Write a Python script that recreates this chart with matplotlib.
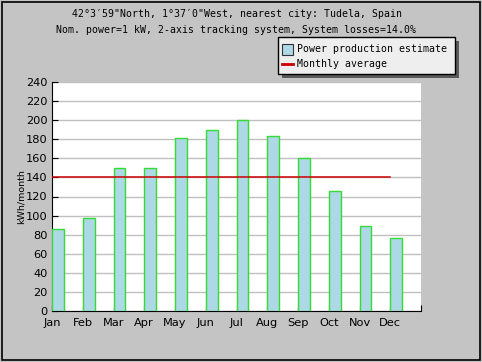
import numpy as np
import matplotlib
matplotlib.use("Agg")
from matplotlib import pyplot as plt
from matplotlib.patches import Rectangle
from matplotlib.lines import Line2D

months = ['Jan', 'Feb', 'Mar', 'Apr', 'May', 'Jun',
          'Jul', 'Aug', 'Sep', 'Oct', 'Nov', 'Dec']
production = [86, 97, 150, 150, 181, 190, 200, 183, 160, 126, 89, 77]
avg = np.mean(production)

title1 = '42\u00b03\u203259"North, 1\u00b037\u20320"West, nearest city: Tudela, Spain'
title2 = 'Nom. power=1 kW, 2-axis tracking system, System losses=14.0%'
legend_labels = ['Power production estimate', 'Monthly average']

W, H = 482, 362
fig = plt.figure(figsize=(W / 100, H / 100), dpi=100, facecolor='#c4c4c4')


def fx(px):
    return px / W


def fy(py):
    return 1 - py / H


# outer black frame
fig.patches.append(Rectangle((fx(2), fy(360)), fx(W - 4), (H - 4) / H,
                             transform=fig.transFigure, fill=False,
                             edgecolor='black', lw=1.2))

ax = fig.add_axes([fx(52), fy(311), fx(369), 229 / H])
ax.set_facecolor('white')

x = np.arange(len(months))
ax.bar(x, production, width=0.39, align='edge', color='#add8e6',
       edgecolor='#33dd33', linewidth=1.0, zorder=3)
ax.plot([0, 11], [avg, avg], color='#cc0000', lw=1.1, zorder=4)

ax.set_xlim(0, 12)
ax.set_ylim(0, 240)
ax.set_xticks(np.arange(13))
ax.set_xticklabels(months + [''], fontsize=8.2, family='DejaVu Sans')
ax.set_yticks(np.arange(0, 241, 20))
ax.tick_params(axis='y', labelsize=8.2, direction='in', length=4, pad=3)
ax.tick_params(axis='x', direction='in', length=4, pad=5)
ax.yaxis.grid(True, color='#c0c0c0', lw=1.0, zorder=0)
ax.set_axisbelow(True)
for s in ['top', 'right']:
    ax.spines[s].set_visible(False)
ax.set_ylabel('kWh/month', fontsize=6.8, family='DejaVu Sans', labelpad=0)

cx = fx((52 + 421) / 2)
fig.text(cx, fy(14), title1, ha='center', va='center',
         family='DejaVu Sans Mono', fontsize=7.1)
fig.text(cx, fy(30), title2, ha='center', va='center',
         family='DejaVu Sans Mono', fontsize=7.1)

# legend box with drop shadow
lx0, ly0, lx1, ly1 = 278, 37, 455, 74
fig.patches.append(Rectangle((fx(lx0 + 4), fy(ly1 + 4)), fx(lx1 - lx0),
                             (ly1 - ly0) / H, transform=fig.transFigure,
                             facecolor='#5a5a5a', edgecolor='none'))
fig.patches.append(Rectangle((fx(lx0), fy(ly1)), fx(lx1 - lx0),
                             (ly1 - ly0) / H, transform=fig.transFigure,
                             facecolor='#eeeeee', edgecolor='black', lw=1.0))
fig.patches.append(Rectangle((fx(282), fy(55)), fx(11), 11 / H,
                             transform=fig.transFigure, facecolor='#add8e6',
                             edgecolor='#333333', lw=0.8))
fig.lines.append(Line2D([fx(282), fx(293)], [fy(64), fy(64)],
                        transform=fig.transFigure, color='#cc0000', lw=2))
for label, py in zip(legend_labels, [49, 64]):
    fig.text(fx(297), fy(py), label, ha='left', va='center',
             family='DejaVu Sans Mono', fontsize=7.1)

fig.savefig('out.png', dpi=100, facecolor=fig.get_facecolor())
